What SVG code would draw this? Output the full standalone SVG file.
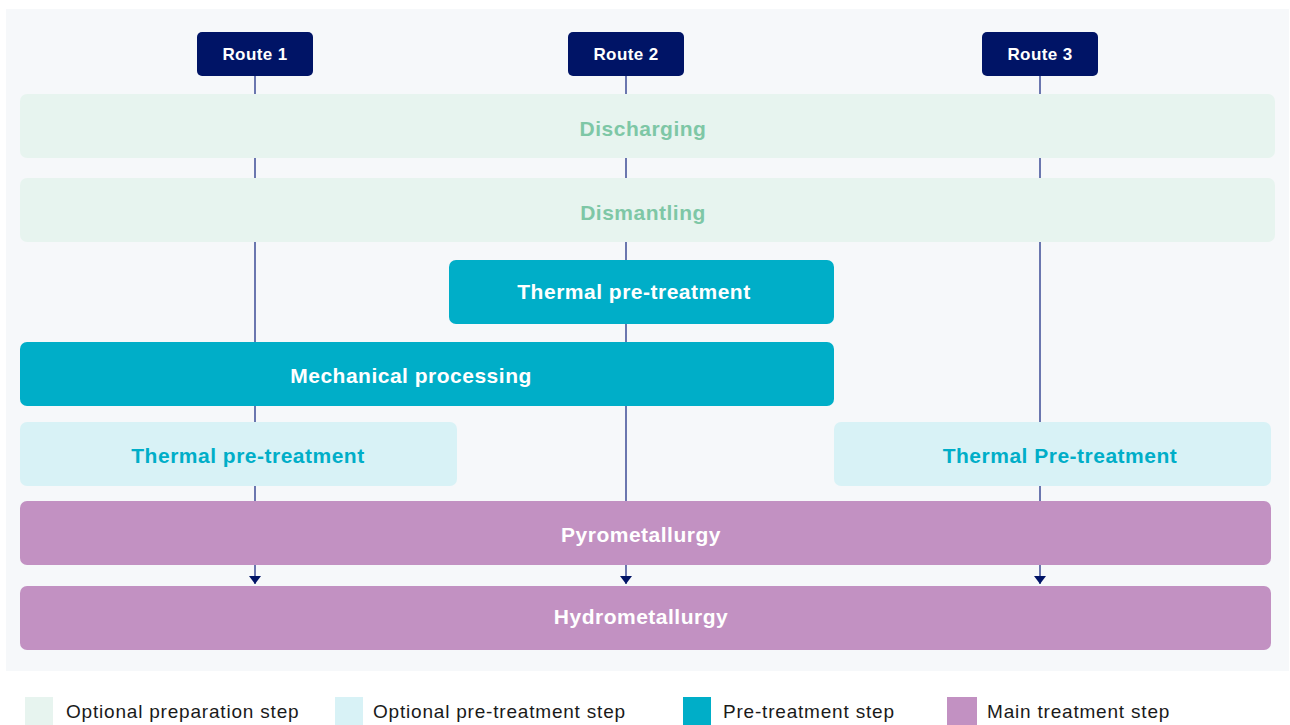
<svg xmlns="http://www.w3.org/2000/svg" width="1290" height="725" viewBox="0 0 1290 725">
<defs>
<marker id="arr" viewBox="0 0 8 12" refX="8" refY="6" markerWidth="8" markerHeight="12" markerUnits="userSpaceOnUse" orient="auto">
<path d="M0,0 L8,6 L0,12 Z" fill="#001466"/>
</marker>
<style>
text{font-family:"Liberation Sans",Arial,sans-serif;}
.route rect{fill:#001466;}
.route text{fill:#ffffff;font-size:17px;font-weight:bold;letter-spacing:0.4px;text-anchor:middle;dominant-baseline:central;}
.prep rect{fill:#e7f4ef;}
.prep text{fill:#7ec7a6;font-size:21px;font-weight:bold;letter-spacing:0.5px;text-anchor:middle;dominant-baseline:central;}
.opt rect{fill:#d8f2f6;}
.opt text{fill:#00aec8;font-size:21px;font-weight:bold;letter-spacing:0.5px;text-anchor:middle;dominant-baseline:central;}
.pre rect{fill:#00aec8;}
.pre text{fill:#ffffff;font-size:21px;font-weight:bold;letter-spacing:0.5px;text-anchor:middle;dominant-baseline:central;}
.main rect{fill:#c291c2;}
.main text{fill:#ffffff;font-size:21px;font-weight:bold;letter-spacing:0.5px;text-anchor:middle;dominant-baseline:central;}
.conn line{stroke:#3d4d96;stroke-width:1.5;fill:none;}
.leg text{fill:#1a1a1a;font-size:19px;letter-spacing:0.8px;dominant-baseline:central;}
</style>
</defs>
<rect x="0" y="0" width="1290" height="725" fill="#ffffff"/>
<rect x="6" y="9" width="1283" height="662" fill="#f6f8fa"/>

<g id="connectors" class="conn">
<line x1="255" y1="76" x2="255" y2="584" marker-end="url(#arr)"/>
<line x1="626" y1="76" x2="626" y2="584" marker-end="url(#arr)"/>
<line x1="1040" y1="76" x2="1040" y2="584" marker-end="url(#arr)"/>
</g>

<g id="route1" class="route"><rect x="197" y="32" width="116" height="44" rx="5"/><text x="255" y="54">Route 1</text></g>
<g id="route2" class="route"><rect x="568" y="32" width="116" height="44" rx="5"/><text x="626" y="54">Route 2</text></g>
<g id="route3" class="route"><rect x="982" y="32" width="116" height="44" rx="5"/><text x="1040" y="54">Route 3</text></g>

<g id="discharging" class="prep"><rect x="20" y="94" width="1255" height="64" rx="7"/><text x="643" y="128">Discharging</text></g>
<g id="dismantling" class="prep"><rect x="20" y="178" width="1255" height="64" rx="7"/><text x="643" y="212">Dismantling</text></g>
<g id="thermal2" class="pre"><rect x="449" y="260" width="385" height="64" rx="7"/><text x="634" y="291">Thermal pre-treatment</text></g>
<g id="mechanical" class="pre"><rect x="20" y="342" width="814" height="64" rx="7"/><text x="411" y="375">Mechanical processing</text></g>
<g id="thermal1" class="opt"><rect x="20" y="422" width="437" height="64" rx="7"/><text x="248" y="455">Thermal pre-treatment</text></g>
<g id="thermal3" class="opt"><rect x="834" y="422" width="437" height="64" rx="7"/><text x="1060" y="455">Thermal Pre-treatment</text></g>
<g id="pyro" class="main"><rect x="20" y="501" width="1251" height="64" rx="7"/><text x="641" y="534">Pyrometallurgy</text></g>
<g id="hydro" class="main"><rect x="20" y="586" width="1251" height="64" rx="7"/><text x="641" y="616">Hydrometallurgy</text></g>

<g id="legend" class="leg">
<rect x="25" y="697" width="28" height="28" fill="#e7f4ef"/><text x="66" y="711">Optional preparation step</text>
<rect x="335" y="697" width="28" height="28" fill="#d8f2f6"/><text x="373" y="711">Optional pre-treatment step</text>
<rect x="683" y="697" width="28" height="28" fill="#00aec8"/><text x="723" y="711">Pre-treatment step</text>
<rect x="947" y="697" width="30" height="28" fill="#c291c2"/><text x="987" y="711">Main treatment step</text>
</g>
</svg>
